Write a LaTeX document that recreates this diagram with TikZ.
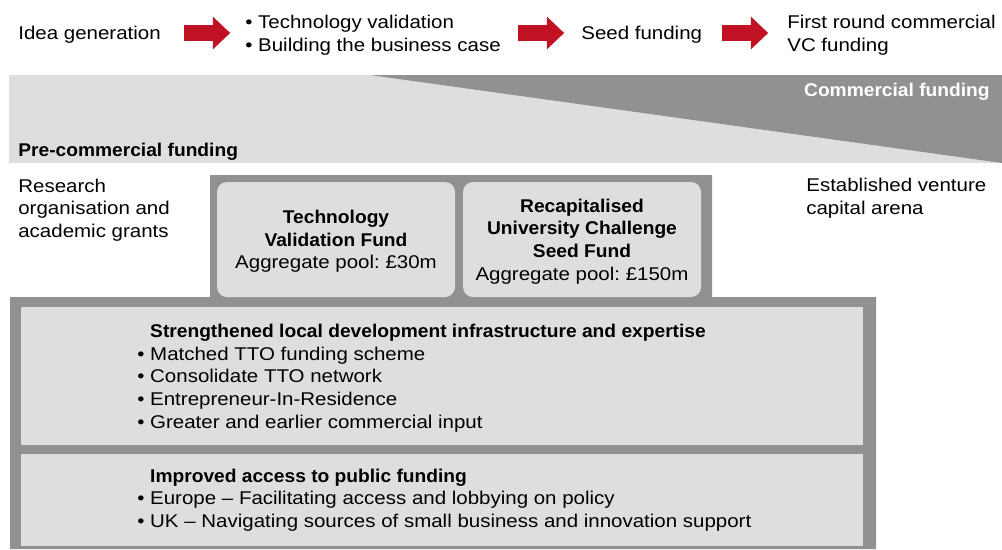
\documentclass[tikz,border=0pt]{standalone}
\usepackage{fontspec}
\setmainfont{Liberation Sans}[FakeStretch=1.11, BoldFeatures={FakeStretch=1.04}]
\usepackage{tikz}
\usetikzlibrary{shapes.arrows}
\frenchspacing

\definecolor{fundred}{RGB}{192,18,34}
\definecolor{lightband}{RGB}{222,222,222}
\definecolor{darkband}{RGB}{145,145,145}

\tikzset{
  txt/.style={inner sep=0pt, align=left, text depth=0pt, font=\fontsize{10.5}{12.9}\selectfont},
  stage/.style={txt, anchor=west},
  redarrow/.style={single arrow, fill=fundred, inner xsep=0pt, inner ysep=1.5mm,
    minimum height=9.2mm, minimum width=6.4mm,
    single arrow head extend=1.7mm, single arrow tip angle=87},
  fundbox/.style={txt, align=center, fill=lightband, rounded corners=2mm,
    minimum width=47.6mm, minimum height=23mm},
  layerbox/.style={fill=lightband, inner sep=0pt, minimum width=168.4mm}
}

\begin{document}
\begin{tikzpicture}[x=0.2mm, y=-0.2mm]
\useasboundingbox (0,0) rectangle (1002,549);

% stages along the top
\node[stage] (idea) at (18,33) {Idea generation};
\node[stage] (valid) at (245,33) {• Technology validation\\• Building the business case};
\node[stage] (seed) at (581,33) {Seed funding};
\node[stage] (vc) at (787,33) {First round commercial\\VC funding};

\node[redarrow] (a1) at (203,33) {};
\node[redarrow] (a2) at (537,33) {};
\node[redarrow] (a3) at (741,33) {};

% funding band
\fill[lightband] (9,75) rectangle (1002,163);
\fill[darkband] (370,75) -- (1002,75) -- (1002,163) -- cycle;
\node[txt, anchor=east, text=white, font=\fontsize{10.5}{12.9}\selectfont\bfseries] (comm) at (990,90) {Commercial funding};
\node[stage, font=\fontsize{10.5}{12.9}\selectfont\bfseries] (precomm) at (18,150) {Pre-commercial funding};

% side notes
\node[stage] (grants) at (18,208) {Research\\organisation and\\academic grants};
\node[stage] (venture) at (806,196.5) {Established venture\\capital arena};

% grey frame behind the funds and layers
\fill[darkband] (210,175) -- (712,175) -- (712,297) -- (876,297) -- (876,549)
  -- (10,549) -- (10,297) -- (210,297) -- cycle;

\node[fundbox] (tvf) at (336,239.5) {\textbf{Technology}\\\textbf{Validation Fund}\\Aggregate pool: £30m};
\node[fundbox] (ucsf) at (582,239.5) {\textbf{Recapitalised}\\\textbf{University Challenge}\\\textbf{Seed Fund}\\Aggregate pool: £150m};

\node[layerbox, minimum height=27.6mm] (infra) at (442,376) {};
\node[layerbox, minimum height=18.4mm] (access) at (442,500) {};

\node[stage] (infratxt) at (137,376) {\hphantom{• }\textbf{Strengthened local development infrastructure and expertise}\\
  • Matched TTO funding scheme\\
  • Consolidate TTO network\\
  • Entrepreneur-In-Residence\\
  • Greater and earlier commercial input};
\node[stage] (accesstxt) at (137,498) {\hphantom{• }\textbf{Improved access to public funding}\\
  • Europe – Facilitating access and lobbying on policy\\
  • UK – Navigating sources of small business and innovation support};

\end{tikzpicture}
\end{document}
